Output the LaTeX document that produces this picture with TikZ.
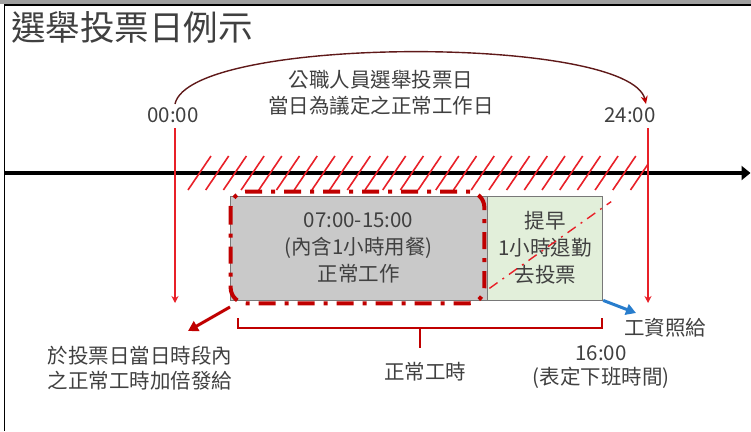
\documentclass[tikz,border=0pt]{standalone}
\usepackage{fontspec}
\setmainfont{Noto Sans CJK TC}
\usetikzlibrary{arrows.meta}
\tikzset{
  txt/.style={text=textgray, inner sep=0pt, align=center,
    font=\fontsize{20.5}{27}\selectfont},
  box-work/.style={txt, draw=boxgray, line width=0.8pt, fill=workgray,
    minimum width=257pt, minimum height=104pt},
  box-early/.style={txt, draw=boxgray, line width=0.8pt, fill=earlygreen,
    minimum width=115pt, minimum height=104pt},
  day-line/.style={draw=linered, line width=1.5pt,
    -{Stealth[length=7pt,width=7pt]}},
  hatch-red/.style={draw=linered, line width=1.6pt},
  axis-line/.style={line width=4pt, -{Triangle[length=9pt,width=14pt]}},
  arc-line/.style={draw=arcdark, line width=1.4pt,
    -{Stealth[length=8pt,width=7pt,color=darkred,fill=darkred]}},
  frame-dash/.style={draw=darkred, line width=4pt,
    dash pattern=on 17pt off 9pt on 4pt off 9pt},
  cross-dash/.style={draw=linered, line width=1.4pt,
    dash pattern=on 10pt off 6pt on 2pt off 6pt},
  brace-red/.style={draw=darkred, line width=2pt},
  note-arrow/.style={line width=3pt, -{Triangle[length=10pt,width=11pt]}}
}
\definecolor{textgray}{RGB}{64,64,64}
\definecolor{boxgray}{RGB}{120,120,120}
\definecolor{workgray}{RGB}{201,201,201}
\definecolor{earlygreen}{RGB}{226,239,218}
\definecolor{linered}{RGB}{232,32,40}
\definecolor{darkred}{RGB}{192,0,0}
\definecolor{arcdark}{RGB}{95,25,25}
\definecolor{noteblue}{RGB}{40,125,205}

\begin{document}
\begin{tikzpicture}[x=1pt, y=-1pt]
  \useasboundingbox (0,0) rectangle (751,431);
  % frame
  \fill[gray!75] (0,0) rectangle (751,3.5);
  \draw[line width=1.5pt] (4,5) -- (751,5);
  \draw[line width=1.5pt] (4.5,5) -- (4.5,431);
  \node[txt, font=\fontsize{34.5}{40}\selectfont, anchor=west] (title) at (11,27) {選舉投票日例示};

  % the day
  \node[txt, font=\fontsize{20.5}{26}\selectfont] (day) at (381,93) {公職人員選舉投票日\\當日為議定之正常工作日};
  \node[txt] (t0) at (173,115) {00:00};
  \node[txt] (t24) at (630,115) {24:00};
  \coordinate (arcA) at (175,104);
  \coordinate (arcB) at (646,104);
  \draw[arc-line] (arcA) .. controls (190,35) and (630,35) .. (arcB);

  % time axis
  \coordinate (axL) at (4,173);
  \coordinate (axR) at (750.5,173);
  \draw[axis-line] (axL) -- (axR);
  \coordinate (d0) at (175,128);
  \coordinate (d0b) at (175,303);
  \coordinate (d24) at (648,128);
  \coordinate (d24b) at (648,303);
  \draw[day-line] (d0) -- (d0b);
  \draw[day-line] (d24) -- (d24b);
  \begin{scope}
    \clip (180,150) rectangle (648,196);
    \foreach \i in {0,...,25}
      \draw[hatch-red] (188+17.7*\i,190) -- ++(23,-34);
  \end{scope}

  % working hours
  \node[box-work] (work) at (358.5,248) {07:00-15:00\\(內含1小時用餐)\\正常工作};
  \node[box-early, anchor=west] (early) at (work.east) {提早\\1小時退勤\\去投票};
  \draw[frame-dash, rounded corners=16pt] ([shift={(1,-4)}]work.north west) rectangle ([shift={(-3,3)}]work.south east);
  \draw[cross-dash] ([shift={(2,-12)}]early.south west) -- ([shift={(8,6)}]early.north east);

  % brace
  \coordinate (brL) at (238,318);
  \coordinate (brR) at (602,318);
  \coordinate (brM) at (420,328);
  \draw[brace-red] (brL) -- ++(0,10) -| (brR);
  \draw[brace-red] (brM) -- ++(0,20);

  % notes
  \node[txt, font=\fontsize{20.5}{25}\selectfont] (dbl) at (140,368) {於投票日當日時段內\\之正常工時加倍發給};
  \node[txt] (normal) at (425,372) {正常工時};
  \node[txt, font=\fontsize{20.5}{24}\selectfont] (endt) at (601,367) {16:00\\(表定下班時間)};
  \node[txt] (paid) at (665,328) {工資照給};
  \coordinate (dblA) at (230,307);
  \coordinate (dblB) at (188,331);
  \coordinate (paidA) at (636,313);
  \draw[note-arrow, darkred] (dblA) -- (dblB);
  \draw[note-arrow, noteblue] (early.south east) -- (paidA);
\end{tikzpicture}
\end{document}
